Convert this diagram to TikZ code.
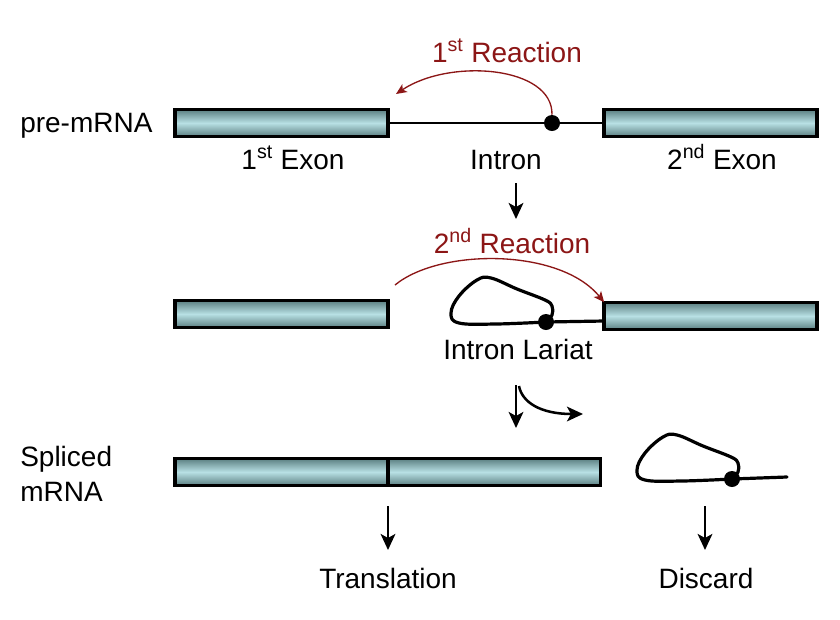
\documentclass[tikz,border=0pt]{standalone}
\usepackage{fontspec}
\setmainfont{Liberation Sans}
\usetikzlibrary{positioning, arrows.meta}

\definecolor{rxnred}{RGB}{140,22,22}
\definecolor{exonlight}{RGB}{184,224,228}
\definecolor{exondark}{RGB}{90,126,128}

\begin{document}
\begin{tikzpicture}[
    x=0.75pt, y=-0.75pt,
    >={Stealth[length=12pt, width=11pt, inset=3pt]},
    every node/.style={font=\fontsize{21}{25}\selectfont, inner sep=0pt},
    exon/.style={
        draw, line width=2.6pt, outer sep=0pt,
        minimum width=159.5pt, minimum height=20.5pt,
        top color=exondark, bottom color=exondark, middle color=exonlight
    },
    caption/.style={anchor=base},
    rxntext/.style={anchor=base, text=rxnred},
    strand/.style={line width=1.6pt},
    lariat/.style={line width=2.4pt, line cap=round, line join=round},
    branch/.style={circle, fill, minimum size=12pt},
    arrow/.style={->, line width=1.9pt},
    rxn/.style={->, rxnred, line width=1pt, >={Stealth[length=8pt, width=7pt, inset=2pt]}},
    lariatloop/.pic={
        \draw[lariat] plot[smooth, tension=0.65] coordinates {
            (0,0) (6,-7) (6,-16) (-1,-22) (-29,-33) (-55,-44) (-69,-42)
            (-87,-26) (-95,-9) (-87,1) (-50,2) (0,0)};
    },
]
\useasboundingbox[fill=white] (0,0) rectangle (840,619);

% --- pre-mRNA ---
\node[anchor=base west] (pre) at (20,132) {pre-mRNA};
\node[exon] (ex1) at (281.5,123) {};
\node[exon] (ex2) at (710.5,123) {};
\draw[strand] (ex1.east) -- (ex2.west);
\node[branch] (bp1) at (552,123) {};
\node[caption] (cap1) at (293,169) {1\textsuperscript{st} Exon};
\node[caption] (capi) at (506,169) {Intron};
\node[caption] (cap2) at (722,169) {2\textsuperscript{nd} Exon};

% first reaction
\node[rxntext] (r1) at (507,62) {1\textsuperscript{st} Reaction};
\coordinate (r1end) at (396,94);
\draw[rxn] (bp1.north) .. controls (553,66) and (450,58) .. (r1end);

\coordinate (d1a) at (516,183);
\coordinate (d1b) at (516,219);
\draw[arrow] (d1a) -- (d1b);

% --- after first reaction ---
\node[rxntext] (r2) at (512,253) {2\textsuperscript{nd} Reaction};
\node[exon] (ex1b) at (281.5,314) {};
\node[exon] (ex2b) at (710.5,316) {};
\coordinate (r2start) at (395,285);
\draw[rxn] (r2start) .. controls (440,248) and (560,248) .. (ex2b.north west);

\node[branch] (bp2) at (546,322) {};
\pic at (bp2) {lariatloop};
\draw[lariat] (bp2.center) -- ([yshift=-3.75pt]ex2b.west);
\node[caption] (capl) at (518,359) {Intron Lariat};

\coordinate (d2a) at (516,385);
\coordinate (d2b) at (516,428);
\coordinate (d3a) at (519,386);
\coordinate (d3b) at (583,414);
\draw[arrow] (d2a) -- (d2b);
\draw[arrow] (d3a) .. controls (522,402) and (540,414) .. (d3b);

% --- spliced mRNA ---
\node[anchor=base west] (spl) at (20,466) {Spliced};
\node[anchor=base west] (mrna) at (20,501) {mRNA};
\node[exon] (sp1) at (281.5,472) {};
\node[exon, right=0pt of sp1] (sp2) {};

\node[branch] (bp3) at (732,479) {};
\pic at (bp3) {lariatloop};
\coordinate (tail) at (787,477);
\draw[lariat] (bp3.center) -- (tail);

% fates
\coordinate (d4a) at (388,506);
\coordinate (d4b) at (388,550);
\coordinate (d5a) at (705,506);
\coordinate (d5b) at (705,550);
\draw[arrow] (d4a) -- (d4b);
\draw[arrow] (d5a) -- (d5b);
\node[caption] (trans) at (388,588) {Translation};
\node[caption] (disc) at (706,588) {Discard};

\end{tikzpicture}
\end{document}
